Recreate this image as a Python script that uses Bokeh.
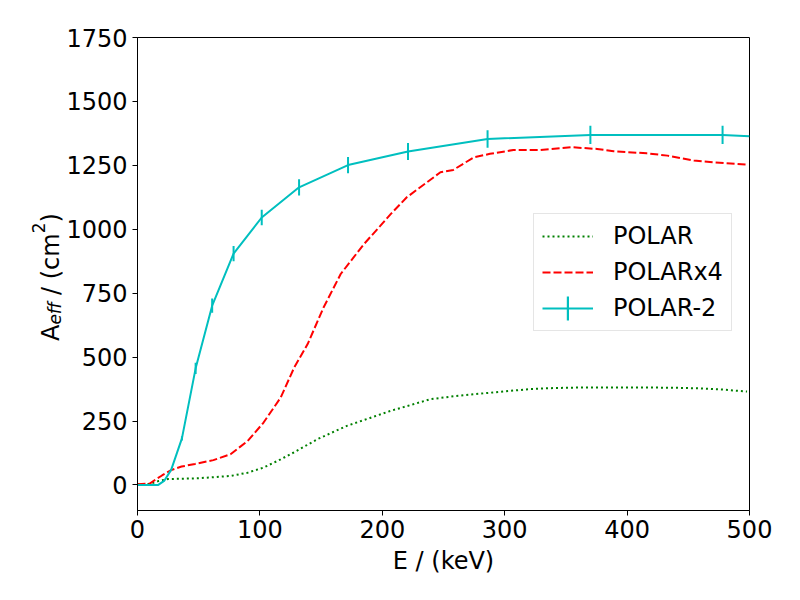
import math
from bokeh.plotting import figure
from bokeh.layouts import row
from bokeh.models import Range1d, FixedTicker, Legend, LegendItem, Label, ColumnDataSource
from bokeh.embed import file_html
from bokeh.resources import INLINE

# ---------------- data ----------------
polar_E = [0, 10, 17, 25, 49, 76, 90, 103, 117, 130, 147, 171, 190, 207, 225, 239,
           260, 280, 300, 321, 340, 362, 390, 416, 440, 457, 478, 498]
polar_A = [3, 4, 15, 23, 26, 35, 48, 68, 100, 133, 179, 231, 262, 290, 315, 335,
           348, 357, 366, 375, 379, 381, 381, 381, 380, 378, 373, 365]

polarx4_E = [0, 10, 15, 20, 27.5, 36, 47, 62, 76, 90, 103, 117, 128, 139, 152, 166,
             185, 198.5, 207, 220, 247.5, 258, 275, 288, 307, 329, 354, 375.5, 389,
             416, 433, 454.5, 471, 498]
polarx4_A = [3, 5, 22, 37, 58, 72, 82, 97, 120, 172, 244, 342, 459, 551, 694, 825,
             942, 1014, 1060, 1125, 1223, 1232, 1282, 1295, 1310, 1310, 1321, 1314, 1305,
             1297, 1288, 1269, 1262, 1253]

polar2_E = [0, 17, 22, 27.5, 36.3, 47.5, 61, 78.5, 101.5, 132, 172, 221, 286, 370, 478, 500]
polar2_A = [0, 0, 17, 59, 182, 456, 701, 905, 1046, 1164, 1251, 1304, 1353, 1369, 1369, 1364]
polar2_err = [0, 0, 0, 0, 8, 22, 28, 30, 30, 32, 32, 33, 34, 36, 36, 0]

x_ticks = [0, 100, 200, 300, 400, 500]
y_ticks = [0, 250, 500, 750, 1000, 1250, 1500, 1750]

series_labels = ["POLAR", "POLARx4", "POLAR-2"]
x_label = "E / (keV)"

GREEN = "#008000"
RED = "#ff0000"
CYAN = "#00bfbf"
FONT = "DejaVu Sans"

X0, X1 = 0, 500
Y0, Y1 = -100, 1750

LW = 63                      # width of the strip holding the y-axis title
FTOP, FH, FBOT = 37, 473, 74  # top border, frame height, bottom border

p = figure(title=None, frame_width=612, frame_height=FH,
           x_range=Range1d(X0, X1), y_range=Range1d(Y0, Y1),
           output_backend="svg", toolbar_location=None,
           min_border_left=137 - LW, min_border_right=35,
           min_border_top=FTOP, min_border_bottom=FBOT)
p.background_fill_color = "white"
p.border_fill_color = "white"
p.outline_line_color = "black"
p.outline_line_width = 1
p.grid.visible = False

for ax in (p.xaxis[0], p.yaxis[0]):
    ax.axis_line_color = "black"
    ax.axis_line_width = 1
    ax.major_tick_line_color = "black"
    ax.major_tick_line_width = 1
    ax.major_tick_out = 5
    ax.major_tick_in = 0
    ax.minor_tick_line_color = None
    ax.major_label_text_font = FONT
    ax.major_label_text_font_size = "24px"
    ax.major_label_text_color = "black"
    ax.axis_label_text_font = FONT
    ax.axis_label_text_font_size = "24px"
    ax.axis_label_text_font_style = "normal"
    ax.axis_label_text_color = "black"

p.xaxis.ticker = FixedTicker(ticks=x_ticks, minor_ticks=[])
p.yaxis.ticker = FixedTicker(ticks=y_ticks, minor_ticks=[])
p.xaxis.major_label_standoff = 4
p.yaxis.major_label_standoff = 5
p.xaxis.axis_label = x_label
p.xaxis.axis_label_standoff = 6

# ---------------- curves ----------------
r_polar = p.line(polar_E, polar_A, line_color=GREEN, line_width=2, line_dash="2 3")
r_x4 = p.line(polarx4_E, polarx4_A, line_color=RED, line_width=2, line_dash="8 3")
r_p2 = p.line(polar2_E, polar2_A, line_color=CYAN, line_width=2)

err_src = ColumnDataSource(data=dict(
    x=polar2_E,
    lo=[a - e for a, e in zip(polar2_A, polar2_err)],
    hi=[a + e for a, e in zip(polar2_A, polar2_err)],
))
p.segment(x0="x", y0="lo", x1="x", y1="hi", source=err_src,
          line_color=CYAN, line_width=2)

# zero-size bars: only used to draw the error-bar symbol in the legend
r_bar = p.vbar(x=polar2_E, top=polar2_A, bottom=polar2_A, width=0,
               fill_color=CYAN, line_color=None)

legend = Legend(items=[LegendItem(label=series_labels[0], renderers=[r_polar]),
                       LegendItem(label=series_labels[1], renderers=[r_x4]),
                       LegendItem(label=series_labels[2], renderers=[r_p2])],
                location=(396, 179), padding=8, margin=0, spacing=8,
                glyph_width=51, glyph_height=28, label_height=28, label_standoff=20,
                label_text_font=FONT, label_text_font_size="24px",
                label_text_color="black",
                border_line_color="#cccccc", border_line_width=1,
                background_fill_color="white", background_fill_alpha=0.8)
p.add_layout(legend)

bar_legend = Legend(items=[LegendItem(label=" ", renderers=[r_bar])],
                    location=(429, 187), padding=0, margin=0, spacing=0,
                    glyph_width=3, glyph_height=30, label_standoff=0,
                    label_text_font_size="1px",
                    border_line_color=None, background_fill_alpha=0)
p.add_layout(bar_legend)

# ---------------- y-axis title strip (with sub/superscript) ----------------
# its frame lines up with the main frame; data y = -(page y)
t = figure(title=None, frame_width=LW, frame_height=FH,
           x_range=Range1d(0, LW), y_range=Range1d(-(FTOP + FH), -FTOP),
           x_axis_type=None, y_axis_type=None, output_backend="svg",
           toolbar_location=None,
           min_border_left=0, min_border_right=0,
           min_border_top=FTOP, min_border_bottom=FBOT)
t.outline_line_color = None
t.grid.visible = False
t.background_fill_color = "white"
t.border_fill_color = "white"

# (text, size, style, baseline x on page, start y on page)
y_label_parts = [
    ("A", "24px", "normal", 50.0, 340.5),
    ("eff", "17px", "italic", 54.0, 324.1),
    ("/ (cm", "24px", "normal", 50.0, 294.5),
    ("2", "17px", "normal", 38.0, 232.8),
    (")", "24px", "normal", 50.0, 222.1),
]
for txt, size, style, bx, sy in y_label_parts:
    t.add_layout(Label(x=bx, y=-sy, x_units="data", y_units="data",
                       text=txt, angle=math.pi / 2, text_align="left",
                       text_baseline="alphabetic", text_font=FONT,
                       text_font_size=size, text_font_style=style,
                       text_color="black"))

layout = row(t, p, spacing=0)
open("out.html", "w").write(file_html(layout, INLINE))
